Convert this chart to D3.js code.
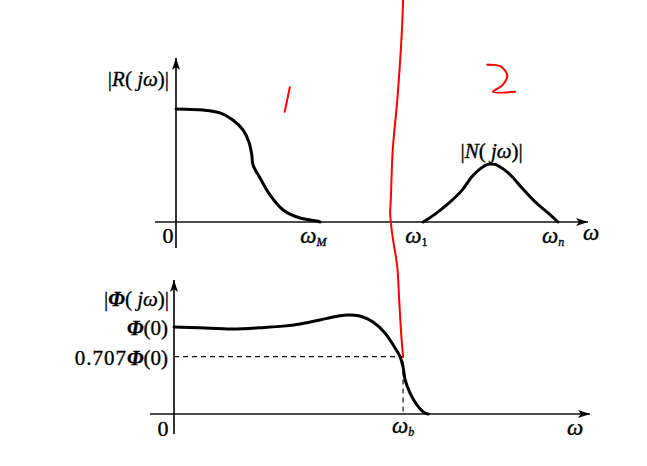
<!DOCTYPE html>
<html>
<head>
<meta charset="utf-8">
<script src="https://cdn.jsdelivr.net/npm/d3@7"></script>
<style>
  body { margin: 0; background: #fff; }
  svg { display: block; }
  text { font-family: "Liberation Serif", "DejaVu Serif", serif; fill: #000; stroke: #000; stroke-width: 0.35px; }
</style>
</head>
<body>
<div id="chart"></div>
<script>
// frequency in arbitrary w units, amplitude relative to the pass-band level
const rOmega = [0, 0.66, 1.07, 1.38, 1.63, 1.77, 1.84, 1.87, 2.04, 2.28, 2.6, 3.01, 3.42, 3.5]
const rValue = [1, 0.991, 0.965, 0.903, 0.814, 0.708, 0.593, 0.504, 0.389, 0.239, 0.106, 0.035, 0.009, 0]

const nOmega = [6.0, 6.29, 6.6, 6.94, 7.18, 7.38, 7.57, 7.74, 7.94, 8.16, 8.4, 8.71, 9.03, 9.27]
const nValue = [0, 0.07, 0.16, 0.28, 0.4, 0.47, 0.51, 0.51, 0.47, 0.4, 0.3, 0.18, 0.08, 0]

const phiOmega = [0, 0.63, 1.43, 2.2, 2.65, 3.06, 3.54, 3.86, 4.2, 4.51, 4.83, 5.12, 5.32, 5.49, 5.56, 5.61, 5.73, 5.9, 6.09, 6.17]
const phiValue = [1, 0.99, 0.977, 0.995, 1.01, 1.035, 1.08, 1.115, 1.138, 1.126, 1.057, 0.931, 0.793, 0.655, 0.54, 0.391, 0.241, 0.103, 0.011, 0]

// tick positions (w units)
const topTicks = [
  { w: 3.45, sub: 'M', it: true },
  { w: 6.0, sub: '1', it: false },
  { w: 9.32, sub: 'n', it: true }
]
const omegaB = 5.56
const halfPower = 0.66 // where the dashed 0.707 line sits in the drawing

// red pen marks, in percent of the page
const redLineX = [62.3, 62.1, 61.4, 60.7, 60.4, 60.3, 60.6, 61.4, 61.7, 62.0, 62.3]
const redLineY = [0, 7.1, 21.5, 32.2, 42.9, 45.7, 50, 57.3, 64.4, 71.5, 76.6]
const redOneX = [44.8, 44.0]
const redOneY = [18.7, 24.0]
const redTwoX = [75.3, 77.3, 78.4, 77.7, 76.2, 79.6]
const redTwoY = [13.9, 14.2, 16.1, 18.2, 19.7, 19.7]

const W = 647, H = 466

const svg = d3.select('#chart').append('svg').attr('width', W).attr('height', H)

// top panel scales
const xTop = d3.scaleLinear().domain([0, 10]).range([176, 588])
const yTop = d3.scaleLinear().domain([0, 1]).range([222, 109])
// bottom panel scales
const xBot = d3.scaleLinear().domain([0, 10]).range([174, 586])
const yBot = d3.scaleLinear().domain([0, 1]).range([414, 327])
// page scale for the red marks
const px = d3.scaleLinear().domain([0, 100]).range([0, W])
const py = d3.scaleLinear().domain([0, 100]).range([0, H])

const defs = svg.append('defs')
defs.append('marker')
  .attr('id', 'arrow')
  .attr('viewBox', '0 0 12 8')
  .attr('refX', 12).attr('refY', 4)
  .attr('markerWidth', 13).attr('markerHeight', 8)
  .attr('markerUnits', 'userSpaceOnUse')
  .attr('orient', 'auto')
  .append('path').attr('d', 'M0,0 L12,4 L0,8 L3,4 Z').attr('fill', '#000')

function axes(x, y, x0, x1, yTopEnd, yLow) {
  svg.append('line')
    .attr('x1', x0).attr('x2', x1)
    .attr('y1', y(0)).attr('y2', y(0))
    .attr('stroke', '#111').attr('stroke-width', 1.7)
    .attr('marker-end', 'url(#arrow)')
  svg.append('line')
    .attr('x1', x(0)).attr('x2', x(0))
    .attr('y1', yLow).attr('y2', yTopEnd)
    .attr('stroke', '#111').attr('stroke-width', 1.7)
    .attr('marker-end', 'url(#arrow)')
}

axes(xTop, yTop, 155, 588, 58, 248)
axes(xBot, yBot, 150, 590, 280, 434)

const curve = (x, y) => d3.line()
  .x((d) => x(d[0]))
  .y((d) => y(d[1]))
  .curve(d3.curveCatmullRom.alpha(0.5))

function drawCurve(ws, vs, x, y) {
  svg.append('path')
    .datum(ws.map((w, i) => [w, vs[i]]))
    .attr('fill', 'none')
    .attr('stroke', '#000')
    .attr('stroke-width', 3)
    .attr('stroke-linecap', 'round')
    .attr('d', curve(x, y))
}

drawCurve(rOmega, rValue, xTop, yTop)
drawCurve(nOmega, nValue, xTop, yTop)

// dashed guides for the -3dB point
svg.append('path')
  .attr('d', `M${xBot(0)},${yBot(halfPower)} H${xBot(omegaB)} V${yBot(0)}`)
  .attr('fill', 'none')
  .attr('stroke', '#111')
  .attr('stroke-width', 1.2)
  .attr('stroke-dasharray', '5,4')

drawCurve(phiOmega, phiValue, xBot, yBot)

// labels
function omegaLabel(xPos, yPos, sub, subItalic) {
  const t = svg.append('text').attr('x', xPos).attr('y', yPos).attr('font-size', 23)
  t.append('tspan').attr('font-style', 'italic').text('ω')
  if (sub) {
    t.append('tspan')
      .attr('font-size', 12)
      .attr('dy', 3)
      .attr('font-style', subItalic ? 'italic' : 'normal')
      .text(sub)
  }
}

topTicks.forEach((t) => omegaLabel(xTop(t.w) - 18, 243, t.sub, t.it))
omegaLabel(583, 240)
omegaLabel(xBot(omegaB) - 11, 433, 'b', true)
omegaLabel(567, 435)

svg.append('text').attr('x', 168).attr('y', 243).attr('font-size', 22)
  .attr('text-anchor', 'middle').text('0')
svg.append('text').attr('x', 163).attr('y', 436).attr('font-size', 22)
  .attr('text-anchor', 'middle').text('0')

function fnLabel(xPos, yPos, letter, anchor, bold) {
  const t = svg.append('text').attr('x', xPos).attr('y', yPos)
    .attr('font-size', 21).attr('text-anchor', anchor)
  t.append('tspan').text('|')
  t.append('tspan').attr('font-style', 'italic')
    .attr('font-weight', bold ? 'bold' : 'normal').text(letter)
  t.append('tspan').text('( ')
  t.append('tspan').attr('font-style', 'italic').text('jω')
  t.append('tspan').text(')|')
}

fnLabel(169, 86, 'R', 'end', false)
fnLabel(xTop(7.66), 158, 'N', 'middle', false)
fnLabel(169, 306, 'Φ', 'end', true)

function phiTick(yPos, prefix) {
  const t = svg.append('text').attr('x', 168).attr('y', yPos)
    .attr('font-size', 21).attr('text-anchor', 'end')
  if (prefix) t.append('tspan').attr('letter-spacing', 1).text(prefix)
  t.append('tspan').attr('font-style', 'italic').attr('font-weight', 'bold').text('Φ')
  t.append('tspan').text('(0)')
}
phiTick(yBot(1) + 8, '')
phiTick(yBot(halfPower) + 8, '0.707')

// red pen marks
const pen = d3.line().x((d) => px(d[0])).y((d) => py(d[1])).curve(d3.curveCatmullRom)
function redMark(xs, ys) {
  svg.append('path')
    .datum(xs.map((v, i) => [v, ys[i]]))
    .attr('fill', 'none')
    .attr('stroke', '#ff0000')
    .attr('stroke-width', 2)
    .attr('stroke-linecap', 'round')
    .attr('stroke-linejoin', 'round')
    .attr('d', pen)
}
redMark(redLineX, redLineY)
redMark(redOneX, redOneY)
redMark(redTwoX, redTwoY)
</script>
</body>
</html>
